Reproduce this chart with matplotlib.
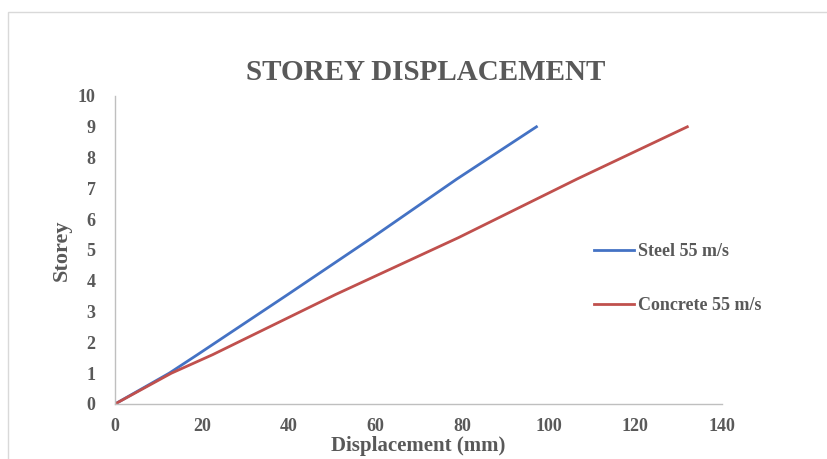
import matplotlib
matplotlib.use("Agg")
from matplotlib import pyplot as plt
from matplotlib.patches import Rectangle

# storey levels and displacements
storey = [0, 1, 1.6, 3.55, 5.4, 7.3, 9]
steel_disp = [0, 12.5, 19, 39.8, 59.3, 78.8, 97.2]
concrete_disp = [0, 13, 22.5, 50.8, 79.2, 106.5, 132]

x_ticks = [0, 20, 40, 60, 80, 100, 120, 140]
y_ticks = list(range(0, 11))

TEXT_COLOR = "#595959"
AXIS_COLOR = "#bfbfbf"

plt.rcParams["font.family"] = ["Liberation Serif", "DejaVu Serif"]

fig = plt.figure(figsize=(8.28, 4.59), dpi=100)
ax = fig.add_axes([115/828, 1 - 404/459, 607/828, 308/459])

# light frame around the chart area
fig.patches.append(Rectangle((8/828, -0.2), 2, 1.2 - 12/459, transform=fig.transFigure,
                             fill=False, edgecolor="#d9d9d9", linewidth=1.0))

ax.plot(steel_disp, storey, color="#4472C4", linewidth=2.0, label="Steel 55 m/s")
ax.plot(concrete_disp, storey, color="#C0504D", linewidth=2.0, label="Concrete 55 m/s")

ax.set_xlim(0, 140)
ax.set_ylim(0, 10)
ax.set_xticks(x_ticks)
ax.set_yticks(y_ticks)
ax.tick_params(length=0, labelsize=13, labelcolor=TEXT_COLOR)
ax.tick_params(axis="x", pad=10)
ax.tick_params(axis="y", pad=14)
for lab in ax.get_xticklabels() + ax.get_yticklabels():
    lab.set_fontweight("bold")

for side in ["top", "right"]:
    ax.spines[side].set_visible(False)
for side in ["left", "bottom"]:
    ax.spines[side].set_color(AXIS_COLOR)
    ax.spines[side].set_linewidth(1.0)

fig.text(426/828, 1 - 73/459, "STOREY DISPLACEMENT", ha="center", va="center",
         fontsize=21, fontweight="bold", color=TEXT_COLOR)
ax.set_xlabel("Displacement (mm)", fontsize=15, fontweight="bold", color=TEXT_COLOR, labelpad=1)
ax.set_ylabel("Storey", fontsize=16, fontweight="bold", color=TEXT_COLOR, labelpad=4)

leg = ax.legend(loc="upper left", bbox_to_anchor=(578/828, 1 - 227/459),
                bbox_transform=fig.transFigure, frameon=False, fontsize=13,
                labelspacing=2.05, handlelength=2.2, handletextpad=0.2)
for t in leg.get_texts():
    t.set_color(TEXT_COLOR)
    t.set_fontweight("bold")

fig.savefig("out.png", dpi=100)
